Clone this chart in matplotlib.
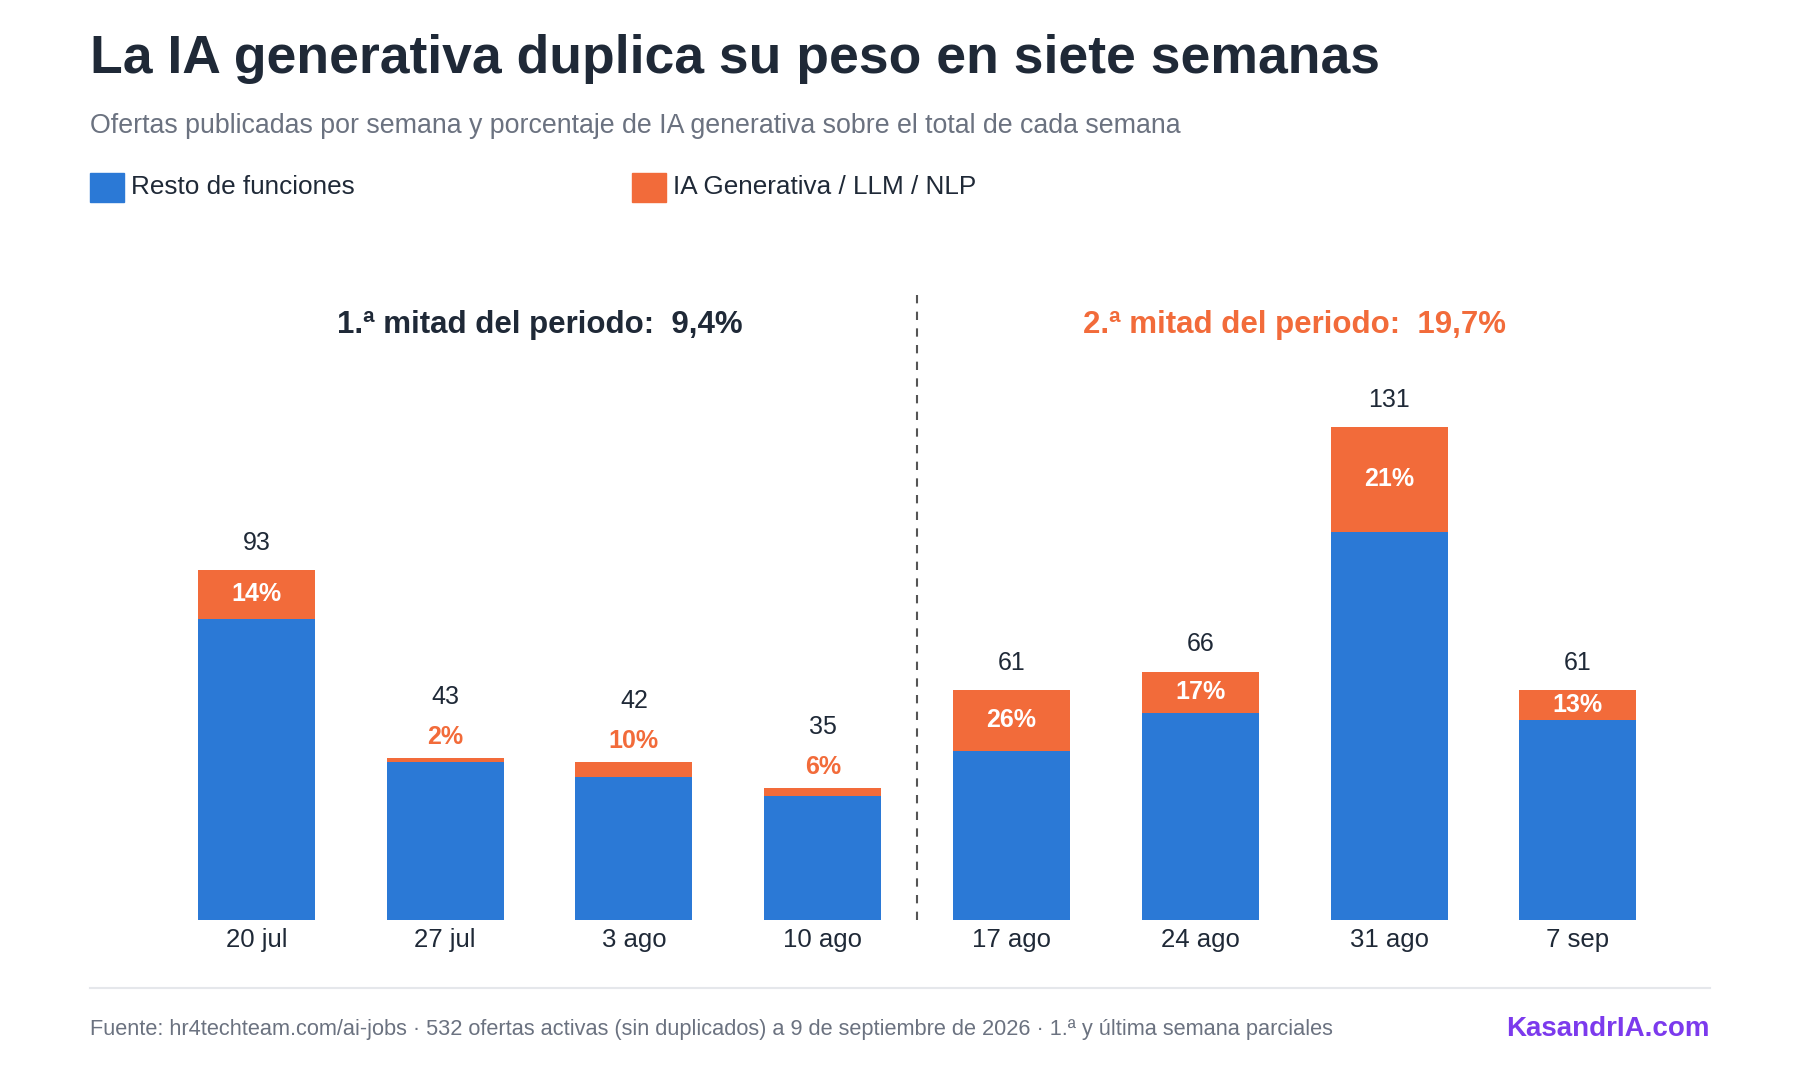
import matplotlib.pyplot as plt

plt.rcParams['font.family'] = ['Liberation Sans', 'DejaVu Sans']

weeks = ['20 jul', '27 jul', '3 ago', '10 ago', '17 ago', '24 ago', '31 ago', '7 sep']
totals = [93, 43, 42, 35, 61, 66, 131, 61]
genai = [13, 1, 4, 2, 16, 11, 28, 8]
pcts = [14, 2, 10, 6, 26, 17, 21, 13]
rest = [t - g for t, g in zip(totals, genai)]

BLUE = '#2B79D6'
ORANGE = '#F26B3A'
DARK = '#1F2937'
GRAY = '#6B7280'

fig = plt.figure(figsize=(18, 10.8), dpi=100)
ax = fig.add_axes([0.09, 0.148, 0.839, 0.60])
x = range(len(weeks))
ax.bar(x, rest, width=0.62, color=BLUE)
ax.bar(x, genai, bottom=rest, width=0.62, color=ORANGE)

for i in x:
    if genai[i] >= 8:
        ax.text(i, rest[i] + genai[i] / 2, f'{pcts[i]}%', ha='center', va='center',
                color='white', fontsize=18, fontweight='bold')
        ax.text(i, totals[i] + 4, str(totals[i]), ha='center', va='bottom', color=DARK, fontsize=18)
    else:
        ax.text(i, totals[i] + 2.5, f'{pcts[i]}%', ha='center', va='bottom',
                color=ORANGE, fontsize=18, fontweight='bold')
        ax.text(i, totals[i] + 13, str(totals[i]), ha='center', va='bottom', color=DARK, fontsize=18)

ax.plot([3.5, 3.5], [0, 166], ls=(0, (4, 4)), color='#555555', lw=1.5, clip_on=False)
ax.text(1.5, 158, '1.ª mitad del periodo:  9,4%', ha='center', va='center',
        fontsize=22.5, fontweight='bold', color=DARK)
ax.text(5.5, 158, '2.ª mitad del periodo:  19,7%', ha='center', va='center',
        fontsize=22.5, fontweight='bold', color=ORANGE)

ax.set_xlim(-0.5, 7.5)
ax.set_ylim(0, 172)
ax.set_xticks(list(x))
ax.set_xticklabels(weeks, fontsize=18.5, color=DARK)
ax.tick_params(axis='x', length=0, pad=6)
ax.set_yticks([])
for s in ax.spines.values():
    s.set_visible(False)

fig.text(0.05, 0.945, 'La IA generativa duplica su peso en siete semanas', fontsize=38.5,
         fontweight='bold', color=DARK, va='center')
fig.text(0.05, 0.883, 'Ofertas publicadas por semana y porcentaje de IA generativa sobre el total de cada semana',
         fontsize=19.3, color=GRAY, va='center')

fig.patches.append(plt.Rectangle((0.05, 0.813), 0.019, 0.027, color=BLUE, transform=fig.transFigure))
fig.text(0.073, 0.827, 'Resto de funciones', fontsize=18.8, color=DARK, va='center')
fig.patches.append(plt.Rectangle((0.351, 0.813), 0.019, 0.027, color=ORANGE, transform=fig.transFigure))
fig.text(0.374, 0.827, 'IA Generativa / LLM / NLP', fontsize=18.8, color=DARK, va='center')

fig.add_artist(plt.Line2D([0.05, 0.955 - 0.005], [0.085, 0.085], color='#E5E7EB', lw=1.5))
fig.text(0.05, 0.047, 'Fuente: hr4techteam.com/ai-jobs · 532 ofertas activas (sin duplicados) a 9 de septiembre de 2026 · 1.ª y última semana parciales',
         fontsize=15.7, color=GRAY, va='center')
fig.text(0.95, 0.047, 'KasandrIA.com', fontsize=20, fontweight='bold', color='#7C3AED',
         va='center', ha='right')

fig.savefig('out.png', dpi=100, facecolor='white')
